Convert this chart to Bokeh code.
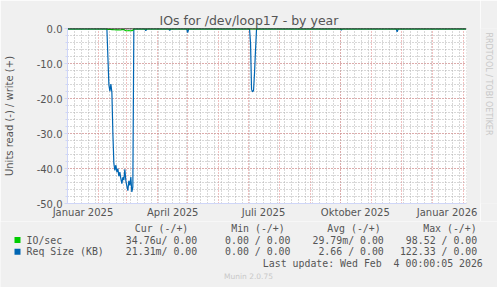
import math
from datetime import date
from bokeh.plotting import figure
from bokeh.layouts import column, row
from bokeh.models import Range1d, FixedTicker, PrintfTickFormatter
from bokeh.core.properties import value
from bokeh.embed import file_html
from bokeh.resources import INLINE

# ---------------- data ----------------
title_text = "IOs for /dev/loop17 - by year"
y_label = "Units read (-) / write (+)"
start_date = date(2025, 1, 1)
n_days = 400

month_dates = [date(2025, m, 1) for m in range(1, 13)] + [date(2026, 1, 1), date(2026, 2, 1)]
quarter_dates = [date(2025, 1, 1), date(2025, 4, 1), date(2025, 7, 1), date(2025, 10, 1), date(2026, 1, 1)]
quarter_labels = ["Januar 2025", "April 2025", "Juli 2025", "Oktober 2025", "Januar 2026"]
y_ticks = [-50, -40, -30, -20, -10, 0]

# IO/sec (read, drawn negative) -- day index since 2025-01-01
io_days = [0, 39, 40, 41, 42, 43, 44, 45, 46, 47, 48, 49, 50, 51, 52, 53, 54, 55, 56,
           57, 58, 59, 60, 61, 62, 63, 64, 65, 66, 399]
io_read = [0.0, 0.0, -0.10, -0.12, -0.15, -0.15, -0.18, -0.20, -0.22, -0.22, -0.25, -0.25,
           -0.22, -0.25, -0.28, -0.25, -0.20, -0.15, -0.18, -0.35, -0.45, -0.50, -0.50,
           -0.48, -0.50, -0.50, -0.45, -0.40, 0.0, 0.0]

# Req Size (KB) (read, drawn negative)
req_days = [0, 39, 40, 41, 42, 43, 44, 45, 46, 47, 48, 49, 50, 51, 52, 53, 54, 55, 56, 57,
            58, 59, 60, 61, 62, 63, 64, 65, 66, 77, 78, 79, 101, 102, 103, 119, 120, 121,
            182, 183, 184, 185, 186, 187, 188, 189, 273, 274, 275, 329, 330, 331, 399]
req_read = [0.0, 0.0, -8.0, -16.0, -17.8, -15.8, -18.2, -30.0, -38.6, -40.5, -39.0, -41.0,
            -40.0, -42.2, -41.0, -42.9, -44.3, -42.5, -43.3, -40.2, -43.5, -45.0, -46.3,
            -43.5, -44.8, -42.4, -46.7, -45.3, 0.0, 0.0, -0.5, 0.0, 0.0, -0.4, 0.0, 0.0,
            -1.0, 0.0, 0.0, -4.0, -17.3, -18.0, -17.6, -12.5, -6.0, 0.0, 0.0, -0.3, 0.0,
            0.0, -0.8, 0.0, 0.0]

legend_names = ["IO/sec", "Req Size (KB)"]
legend_colors = ["#00CC00", "#0066B3"]
legend_headers = ["Cur (-/+)", "Min (-/+)", "Avg (-/+)", "Max (-/+)"]
legend_values = [
    ["34.76u/ 0.00", "0.00 / 0.00", "29.79m/ 0.00", "98.52 / 0.00"],
    ["21.31m/ 0.00", "0.00 / 0.00", "2.66 / 0.00", "122.33 / 0.00"],
]
last_update = "Last update: Wed Feb \u00a04 00:00:05 2026"
footer = "Munin 2.0.75"
side_text = "RRDTOOL / TOBI OETIKER"

# ---------------- layout ----------------
W, H = 497, 287
FL, FR, FT, FB = 66, 466, 28, 203      # plot frame in page pixels
CHART_W, CHART_H = 480, 221             # chart figure (top-left part)
Y_TOP = 0.5 / 3.5
X0, X1 = -0.5, n_days - 0.5
BG = "#F0F0F0"
FONT = "DejaVu Sans"
MONO = "DejaVu Sans Mono"
TXT = "#555555"
LAV = "#CFD6F8"


def day(d):
    return (d - start_date).days


month_days = [day(d) for d in month_dates]
week_days = list(range(0, n_days, 7))
label_days = [day(d) + 15 for d in quarter_dates]

# ---------------- main chart ----------------
p = figure(width=CHART_W, height=CHART_H, output_backend="svg", toolbar_location=None,
           x_range=Range1d(X0, X1), y_range=Range1d(-50, Y_TOP),
           min_border_left=FL, min_border_right=CHART_W - FR, min_border_top=FT,
           min_border_bottom=CHART_H - FB)
p.border_fill_color = BG
p.background_fill_color = "#FFFFFF"
p.outline_line_color = None

p.title.text = title_text
p.title.align = "left"
p.title.offset = 92
p.title.text_font = FONT
p.title.text_font_size = "12.5px"
p.title.text_font_style = "normal"
p.title.text_color = TXT
p.title.standoff = 2

xa = p.xaxis[0]
xa.ticker = FixedTicker(ticks=label_days)
xa.major_label_overrides = {d: lab for d, lab in zip(label_days, quarter_labels)}
xa.major_tick_out = 0
xa.major_tick_in = 0
xa.minor_tick_out = 0
xa.minor_tick_in = 0
xa.axis_line_color = LAV
xa.major_label_standoff = 3
xa.major_label_text_font = FONT
xa.major_label_text_font_size = "10px"
xa.major_label_text_color = TXT

ya = p.yaxis[0]
ya.ticker = FixedTicker(ticks=y_ticks, minor_ticks=list(range(-50, 1, 2)))
ya.formatter = PrintfTickFormatter(format="%.1f")
ya.major_tick_out = 3
ya.major_tick_in = 0
ya.minor_tick_out = 2
ya.minor_tick_in = 0
ya.major_tick_line_color = LAV
ya.minor_tick_line_color = LAV
ya.axis_line_color = LAV
ya.major_label_standoff = 2
ya.major_label_text_font = FONT
ya.major_label_text_font_size = "10px"
ya.major_label_text_color = TXT
ya.axis_label = y_label
ya.axis_label_text_font = FONT
ya.axis_label_text_font_size = "10px"
ya.axis_label_text_font_style = "normal"
ya.axis_label_text_color = TXT
ya.axis_label_standoff = 19

p.xgrid.ticker = FixedTicker(ticks=month_days, minor_ticks=week_days)
for g in (p.xgrid[0], p.ygrid[0]):
    g.grid_line_color = "#E08080"
    g.grid_line_dash = "1 2"
    g.minor_grid_line_color = "#B0B0B0"
    g.minor_grid_line_dash = "1 2"

p.line(req_days, req_read, line_color="#0066B3", line_width=1.2)
p.line(io_days, io_read, line_color="#00CC00", line_width=1.2)
p.hspan(y=[0], line_color="#000000", line_width=1.3)


# ---------------- pixel panels (side text and legend) ----------------
def pixel_panel(x0, x1, y0, y1):
    f = figure(width=x1 - x0, height=y1 - y0, output_backend="svg", toolbar_location=None,
               x_range=Range1d(x0, x1), y_range=Range1d(-y1, -y0),
               x_axis_location=None, y_axis_location=None, min_border=0)
    f.grid.visible = False
    f.outline_line_color = None
    f.background_fill_color = BG
    f.border_fill_color = BG
    return f


def put_text(f, xs, ys, texts, font=MONO, size="9.9px", color=TXT, align="left", angle=0.0):
    f.text(x=xs, y=[-v for v in ys], text=texts, text_font=value(font),
           text_font_size=value(size), text_color=color, text_align=align,
           text_baseline="middle", angle=angle)


side = pixel_panel(CHART_W, W, 0, CHART_H)
put_text(side, [488.0], [5.0], [side_text], font=FONT, size="8px", color="#C8C8C8",
         angle=-math.pi / 2)

leg = pixel_panel(0, W, CHART_H, H)
header_x = [134.3, 230.7, 326.7, 422.7]
value_right = [196.7, 290.0, 383.3, 476.7]
row_y = [239.5, 251.3]
put_text(leg, header_x, [227.7] * 4, legend_headers)
for i, (name, col) in enumerate(zip(legend_names, legend_colors)):
    cy = row_y[i]
    leg.quad(left=[14], right=[20], top=[-(cy - 3)], bottom=[-(cy + 3)],
             fill_color=col, line_color=None)
    put_text(leg, [26.0], [cy], [name])
    put_text(leg, value_right, [cy] * 4, legend_values[i], align="right")
put_text(leg, [482.3], [263.3], [last_update], align="right")
put_text(leg, [248.0], [276.0], [footer], font=FONT, size="7.5px", color="#C8C8C8",
         align="center")

layout = column(row(p, side, spacing=0), leg, spacing=0)
open("out.html", "w").write(file_html(layout, INLINE))
